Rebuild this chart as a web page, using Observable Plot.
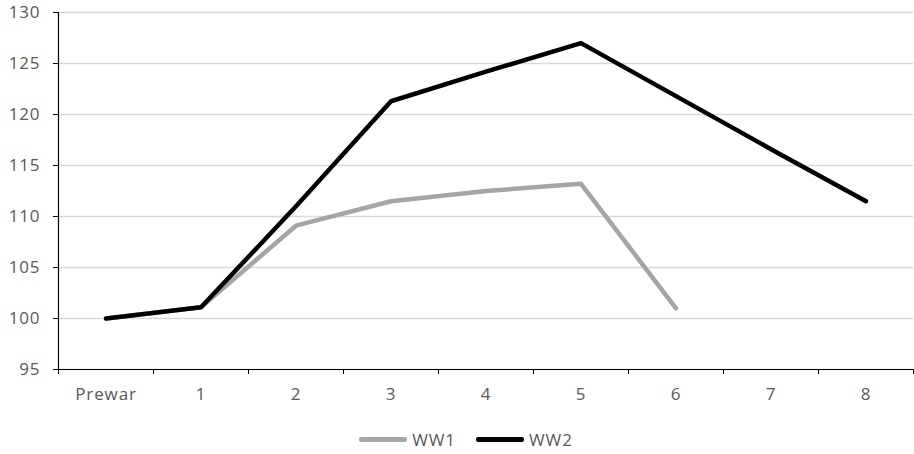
<!DOCTYPE html>
<html><head><meta charset="utf-8">
<script src="https://cdn.jsdelivr.net/npm/d3@7"></script>
<script src="https://cdn.jsdelivr.net/npm/@observablehq/plot@0.6"></script>
<style>
body{margin:0;background:#fff;font-family:"Open Sans",sans-serif;}
#legend{display:flex;justify-content:center;align-items:center;height:29px;font-size:17px;letter-spacing:0.9px;color:#595959;padding-left:18px;}
.item{display:flex;align-items:center;margin:0 10px;}
.sw{width:48px;height:4.5px;border-radius:2px;margin-right:5px;}
svg text{letter-spacing:0.9px;}
</style></head>
<body><div id="chart"></div><div id="legend"></div>
<script>
const categories = ["Prewar","1","2","3","4","5","6","7","8"];
const ww1 = [100, 101.1, 109.1, 111.5, 112.5, 113.2, 101.0, null, null];
const ww2 = [100, 101.1, 111.0, 121.3, 124.2, 127.0, 121.8, 116.6, 111.5];
const seriesNames = ["WW1","WW2"];
const colors = ["#a5a5a5","#000000"];
const yTicks = [95,100,105,110,115,120,125,130];

const data = [];
[ww1, ww2].forEach((s, si) => s.forEach((v, i) => { if (v != null) data.push({series: seriesNames[si], i, v}); }));

const chart = Plot.plot({
  width: 914, height: 425,
  marginLeft: 58, marginRight: 1, marginTop: 12, marginBottom: 56,
  style: {fontFamily: '"Open Sans", sans-serif', fontSize: "17px", color: "#595959", background: "#fff"},
  x: {type: "linear", domain: [-0.5, categories.length - 0.5]},
  y: {domain: [95, 130]},
  marks: [
    Plot.gridY(yTicks, {stroke: "#d9d9d9", strokeOpacity: 1, strokeWidth: 1.5}),
    Plot.axisY(yTicks, {tickSize: 5, tickPadding: 13, stroke: "#000", label: null, fill: "#595959", fontSize: 17}),
    Plot.axisX(d3.range(0, categories.length + 1).map(k => k - 0.5), {tickSize: 5, tickFormat: () => "", label: null, stroke: "#000"}),
    Plot.axisX(d3.range(categories.length), {tickSize: 0, tickPadding: 18, tickFormat: i => categories[i], label: null, fill: "#595959", fontSize: 17}),
    Plot.ruleY([95], {stroke: "#000", strokeWidth: 1.2}),
    Plot.ruleX([-0.5], {stroke: "#000", strokeWidth: 1.2}),
    Plot.line(data, {x: "i", y: "v", z: "series", stroke: d => colors[seriesNames.indexOf(d.series)], strokeWidth: 4.5, strokeLinejoin: "round", strokeLinecap: "round"})
  ]
});
document.getElementById("chart").appendChild(chart);
const lg = document.getElementById("legend");
seriesNames.forEach((n, k) => {
  const it = document.createElement("div"); it.className = "item";
  it.innerHTML = `<div class="sw" style="background:${colors[k]}"></div><span>${n}</span>`;
  lg.appendChild(it);
});
</script></body></html>
